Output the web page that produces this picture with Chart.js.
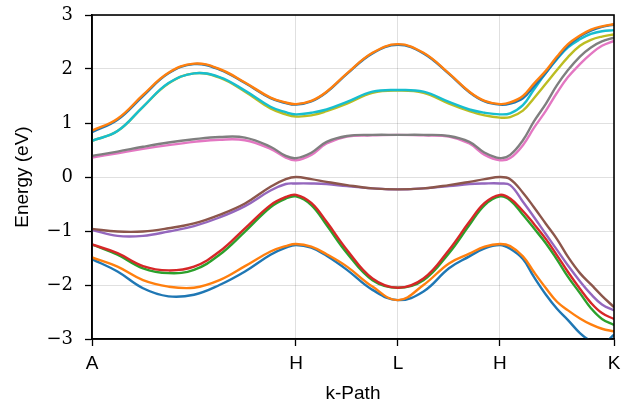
<!DOCTYPE html>
<html>
<head>
<meta charset="utf-8">
<script src="https://cdn.jsdelivr.net/npm/chart.js@4"></script>
<style>
    body { margin: 0; background: #fff; }
</style>
</head>
<body>
<canvas id="band-chart" width="633" height="407"></canvas>
<script>
// k-path positions (distance along the path) and the high symmetry labels
const kTicks = [0, 2, 3, 4, 5.118];
const kLabels = ['A', 'H', 'L', 'H', 'K'];

const kPath = [0, 0.25, 0.5, 0.75, 1.0, 1.25, 1.5, 1.75, 1.9, 2.0,
    2.15, 2.3, 2.5, 2.75, 3.0,
    3.25, 3.5, 3.7, 3.85, 4.0,
    4.1, 4.225, 4.333, 4.451, 4.559, 4.667, 4.784, 4.892, 5.0, 5.118];

// band energies (eV), one value per kPath point
const band0 = [-1.52, -1.75, -2.06, -2.21, -2.18, -2.00, -1.75, -1.44, -1.31, -1.26,
    -1.31, -1.46, -1.72, -2.09, -2.28,
    -2.12, -1.69, -1.47, -1.32, -1.26,
    -1.33, -1.52, -1.85, -2.18, -2.44, -2.65, -2.89, -3.04, -3.10, -2.92];
const band1 = [-1.49, -1.66, -1.91, -2.03, -2.05, -1.91, -1.65, -1.38, -1.28, -1.24,
    -1.29, -1.43, -1.66, -2.03, -2.28,
    -2.00, -1.60, -1.42, -1.29, -1.24,
    -1.28, -1.47, -1.76, -2.06, -2.31, -2.47, -2.62, -2.73, -2.81, -2.86];
const band2 = [-1.25, -1.44, -1.69, -1.78, -1.72, -1.44, -1.01, -0.56, -0.40, -0.36,
    -0.52, -0.89, -1.41, -1.91, -2.05,
    -1.91, -1.41, -0.89, -0.52, -0.36,
    -0.43, -0.70, -0.95, -1.23, -1.53, -1.85, -2.15, -2.43, -2.63, -2.74];
const band3 = [-1.25, -1.41, -1.65, -1.73, -1.66, -1.38, -0.95, -0.52, -0.37, -0.33,
    -0.48, -0.83, -1.35, -1.88, -2.05,
    -1.88, -1.35, -0.83, -0.48, -0.33,
    -0.40, -0.63, -0.87, -1.15, -1.45, -1.76, -2.07, -2.33, -2.52, -2.63];
const band4 = [-0.98, -1.09, -1.09, -1.01, -0.91, -0.75, -0.54, -0.25, -0.13, -0.12,
    -0.12, -0.13, -0.17, -0.21, -0.23,
    -0.21, -0.17, -0.13, -0.12, -0.12,
    -0.15, -0.46, -0.74, -1.06, -1.35, -1.64, -1.93, -2.17, -2.36, -2.47];
const band5 = [-0.96, -1.01, -1.01, -0.95, -0.86, -0.70, -0.49, -0.18, -0.04, 0.00,
    -0.04, -0.09, -0.15, -0.21, -0.23,
    -0.21, -0.15, -0.09, -0.04, 0.00,
    -0.04, -0.29, -0.56, -0.87, -1.15, -1.48, -1.78, -1.99, -2.20, -2.41];
const band6 = [0.36, 0.44, 0.52, 0.59, 0.65, 0.69, 0.68, 0.52, 0.36, 0.31,
    0.41, 0.62, 0.75, 0.77, 0.78,
    0.77, 0.75, 0.62, 0.41, 0.31,
    0.35, 0.59, 0.91, 1.23, 1.56, 1.85, 2.09, 2.28, 2.43, 2.52];
const band7 = [0.39, 0.47, 0.56, 0.64, 0.70, 0.74, 0.73, 0.56, 0.39, 0.35,
    0.45, 0.65, 0.76, 0.78, 0.78,
    0.78, 0.76, 0.65, 0.45, 0.35,
    0.41, 0.68, 1.03, 1.36, 1.70, 1.98, 2.23, 2.40, 2.51, 2.58];
const band8 = [0.67, 0.85, 1.30, 1.73, 1.92, 1.84, 1.58, 1.27, 1.16, 1.12,
    1.14, 1.22, 1.36, 1.56, 1.60,
    1.56, 1.36, 1.22, 1.14, 1.10,
    1.11, 1.23, 1.46, 1.73, 1.98, 2.22, 2.43, 2.54, 2.60, 2.64];
const band9 = [0.67, 0.85, 1.30, 1.74, 1.92, 1.85, 1.60, 1.30, 1.20, 1.16,
    1.19, 1.25, 1.39, 1.58, 1.61,
    1.58, 1.39, 1.25, 1.19, 1.16,
    1.18, 1.33, 1.62, 1.93, 2.18, 2.40, 2.55, 2.65, 2.70, 2.72];
const band10 = [0.83, 1.06, 1.50, 1.92, 2.09, 1.99, 1.74, 1.46, 1.37, 1.34,
    1.40, 1.57, 1.91, 2.29, 2.45,
    2.29, 1.91, 1.57, 1.40, 1.34,
    1.36, 1.46, 1.68, 1.93, 2.20, 2.43, 2.60, 2.71, 2.78, 2.82];
const band11 = [0.86, 1.08, 1.52, 1.93, 2.10, 2.00, 1.75, 1.47, 1.38, 1.35,
    1.41, 1.58, 1.92, 2.30, 2.46,
    2.30, 1.92, 1.58, 1.41, 1.35,
    1.38, 1.50, 1.73, 1.97, 2.23, 2.46, 2.62, 2.73, 2.79, 2.83];

const bands = [band0, band1, band2, band3, band4, band5, band6, band7, band8, band9, band10, band11];

// matplotlib tab10 cycle
const bandColors = ['#1f77b4', '#ff7f0e', '#2ca02c', '#d62728', '#9467bd',
    '#8c564b', '#e377c2', '#7f7f7f', '#bcbd22', '#17becf'];

const titleFont = { family: "'Liberation Sans', Arial, sans-serif", size: 19 };

// box around the plot area (Chart.js only draws the left/bottom borders)
const framePlugin = {
    id: 'frame',
    afterDatasetsDraw(chart) {
        const { ctx, chartArea } = chart;
        ctx.save();
        ctx.strokeStyle = '#000';
        ctx.lineWidth = 1.6;
        ctx.strokeRect(chartArea.left, chartArea.top,
            chartArea.right - chartArea.left, chartArea.bottom - chartArea.top);
        ctx.restore();
    }
};

const datasets = bands.map((band, i) => ({
    label: 'band ' + i,
    data: kPath.map((k, j) => ({ x: k, y: band[j] })),
    borderColor: bandColors[i % bandColors.length],
    borderWidth: 2.4,
    pointRadius: 0,
    tension: 0.4,
    fill: false,
    order: bands.length - i // later bands on top, like matplotlib
}));

const chartContext = document.getElementById('band-chart').getContext('2d');

const bandChart = new Chart(chartContext, {
    type: 'line',
    data: { datasets: datasets },
    options: {
        responsive: false,
        animation: false,
        layout: { padding: { top: 15, right: 19, bottom: 0, left: 0 } },
        plugins: {
            legend: { display: false },
            tooltip: { enabled: false }
        },
        scales: {
            x: {
                type: 'linear',
                min: 0,
                max: kTicks[kTicks.length - 1],
                afterBuildTicks: scale => {
                    scale.ticks = kTicks.map(v => ({ value: v }));
                },
                afterFit: scale => {
                    scale.height = 68;
                    scale.paddingLeft = 0;
                    scale.paddingRight = 0;
                },
                ticks: {
                    autoSkip: false,
                    maxRotation: 0,
                    padding: 6,
                    color: '#000',
                    font: titleFont,
                    callback: (value, index) => kLabels[index]
                },
                grid: {
                    color: 'rgba(0,0,0,0.12)',
                    tickColor: '#000',
                    tickLength: 7,
                    tickWidth: 1.3
                },
                border: { color: '#000', width: 1.6 },
                title: {
                    display: true,
                    text: 'k-Path',
                    color: '#000',
                    font: titleFont,
                    padding: { top: 0, bottom: 2 }
                }
            },
            y: {
                min: -3,
                max: 3,
                afterFit: scale => {
                    scale.width = 92;
                    scale.paddingTop = 0;
                    scale.paddingBottom = 0;
                },
                ticks: {
                    stepSize: 1,
                    padding: 12,
                    color: '#000',
                    font: { family: "'DejaVu Serif', serif", size: 18 },
                    callback: value => value < 0 ? '\u2212' + Math.abs(value) : String(value)
                },
                grid: {
                    color: 'rgba(0,0,0,0.12)',
                    tickColor: '#000',
                    tickLength: 7,
                    tickWidth: 1.3
                },
                border: { color: '#000', width: 1.6 },
                title: {
                    display: true,
                    text: 'Energy (eV)',
                    color: '#000',
                    font: titleFont,
                    padding: { top: 11, bottom: 0 }
                }
            }
        }
    },
    plugins: [framePlugin]
});
</script>
</body>
</html>
